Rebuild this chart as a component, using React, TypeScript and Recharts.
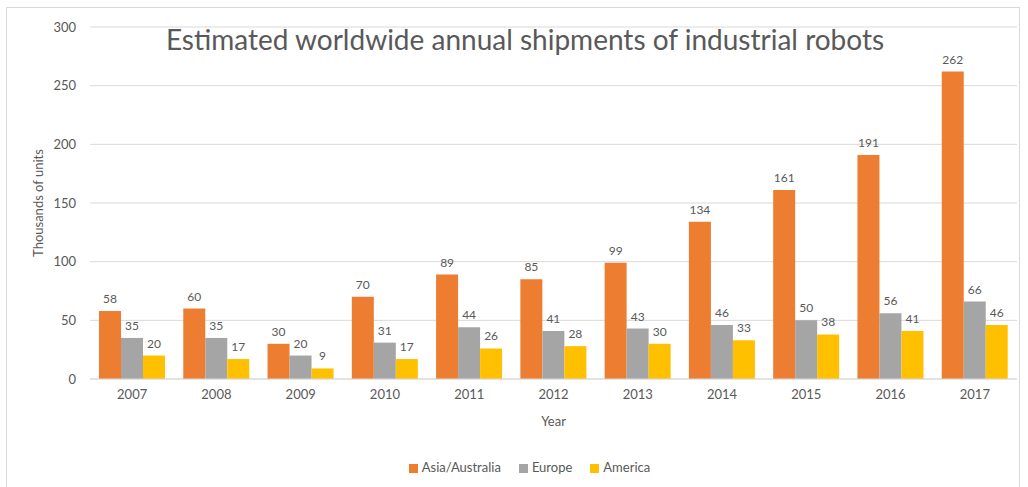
import React from 'react';
import { BarChart, Bar, XAxis, YAxis, CartesianGrid, Legend, LabelList } from 'recharts';

const years = ['2007', '2008', '2009', '2010', '2011', '2012', '2013', '2014', '2015', '2016', '2017'];
const asiaAustralia = [58, 60, 30, 70, 89, 85, 99, 134, 161, 191, 262];
const europe = [35, 35, 20, 31, 44, 41, 43, 46, 50, 56, 66];
const america = [20, 17, 9, 17, 26, 28, 30, 33, 38, 41, 46];
const yTicks = [0, 50, 100, 150, 200, 250, 300];
const seriesOrder = ['Asia/Australia', 'Europe', 'America'];

const data = years.map((y, i) => ({
  year: y,
  asia: asiaAustralia[i],
  europe: europe[i],
  america: america[i],
}));

const FONT = 'Lato, "Open Sans", sans-serif';
const TXT = '#595959';

export default function App() {
  return (
    <div style={{ position: 'absolute', left: 0, top: 0, width: 1028, height: 487, background: '#fff', fontFamily: FONT }}>
      <div style={{ position: 'absolute', left: 6, top: 7, width: 1014, height: 490, border: '1px solid #d9d9d9', boxSizing: 'border-box' }} />
      <BarChart
        width={1028}
        height={487}
        data={data}
        margin={{ top: 27, right: 11, bottom: 32, left: 0 }}
        barGap={0}
        barSize={22}
      >
        <CartesianGrid vertical={false} stroke="#d9d9d9" />
        <XAxis
          dataKey="year"
          tickLine={false}
          axisLine={{ stroke: '#d9d9d9' }}
          tick={{ fill: TXT, fontSize: 13, fontFamily: FONT }}
          tickMargin={5}
          height={60}
          label={{ value: 'Year', position: 'insideBottom', offset: 13, fill: TXT, fontSize: 13, fontFamily: FONT }}
        />
        <YAxis
          domain={[0, 300]}
          ticks={yTicks}
          tickLine={false}
          axisLine={false}
          width={90}
          tickMargin={8}
          tick={{ fill: TXT, fontSize: 13, fontFamily: FONT }}
          label={{ value: 'Thousands of units', angle: -90, position: 'insideLeft', offset: 38, fill: TXT, fontSize: 13, fontFamily: FONT, style: { textAnchor: 'middle' } }}
        />
        <Legend
          verticalAlign="bottom"
          iconType="square"
          iconSize={9}
          itemSorter={(item: any) => seriesOrder.indexOf(item.value)}
          wrapperStyle={{ fontSize: 13, fontFamily: FONT, color: TXT, bottom: 12, left: 30 }}
          formatter={(v: string) => <span style={{ color: TXT, marginRight: 8 }}>{v}</span>}
        />
        <Bar dataKey="asia" name="Asia/Australia" fill="#ED7D31" isAnimationActive={false}>
          <LabelList dataKey="asia" position="top" offset={8} fill={TXT} fontSize={12} fontFamily={FONT} />
        </Bar>
        <Bar dataKey="europe" name="Europe" fill="#A5A5A5" isAnimationActive={false}>
          <LabelList dataKey="europe" position="top" offset={8} fill={TXT} fontSize={12} fontFamily={FONT} />
        </Bar>
        <Bar dataKey="america" name="America" fill="#FFC000" isAnimationActive={false}>
          <LabelList dataKey="america" position="top" offset={8} fill={TXT} fontSize={12} fontFamily={FONT} />
        </Bar>
      </BarChart>
      <div style={{ position: 'absolute', left: 0, width: 1050, top: 22, textAlign: 'center', fontSize: 28, color: TXT, fontFamily: FONT, pointerEvents: 'none', whiteSpace: 'nowrap' }}>
        Estimated worldwide annual shipments of industrial robots
      </div>
    </div>
  );
}
